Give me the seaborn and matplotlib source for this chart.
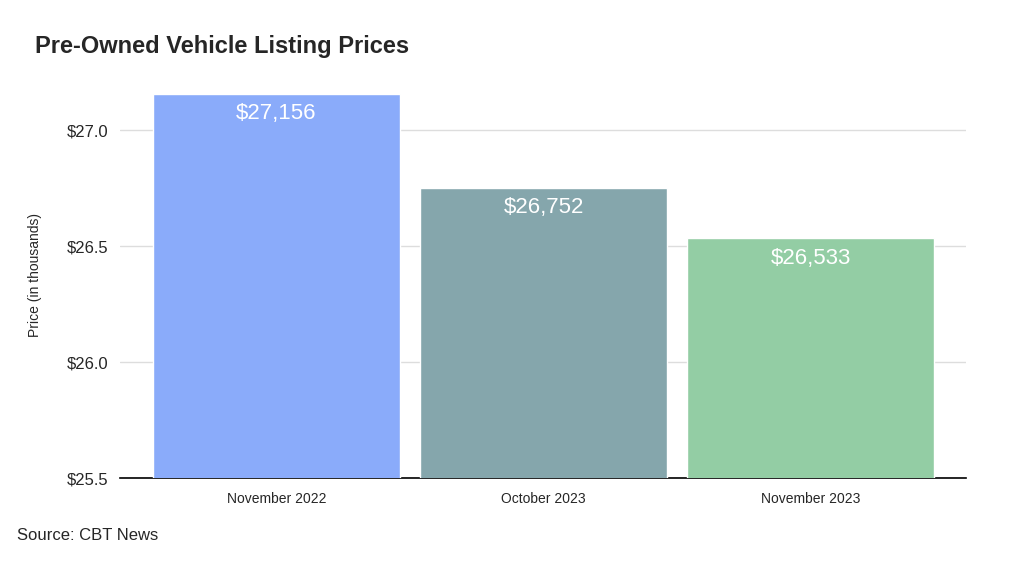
import matplotlib
matplotlib.use("Agg")
import matplotlib.pyplot as plt
import seaborn as sns
import pandas as pd

periods = ["November 2022", "October 2023", "November 2023"]
prices = [27.156, 26.752, 26.533]
price_labels = ["$27,156", "$26,752", "$26,533"]
bar_colors = ["#8aabfa", "#85a6ac", "#93cda4"]

sns.set_theme(style="white")
plt.rcParams['font.family'] = ['Liberation Sans', 'DejaVu Sans']

df = pd.DataFrame({"period": periods, "price": prices})

fig = plt.figure(figsize=(10.24, 5.65), dpi=100)
ax = fig.add_axes([120 / 1024, 1 - 478 / 565, 846 / 1024, 406 / 565])

sns.barplot(data=df, x="period", y="price", hue="period", palette=bar_colors,
            width=0.925, legend=False, ax=ax, saturation=1, zorder=3)

ax.set_ylim(25.5, 27.25)
ax.set_xlim(-0.586, 2.582)
ax.set_yticks([25.5, 26.0, 26.5, 27.0])
ax.set_yticklabels(["$25.5", "$26.0", "$26.5", "$27.0"], fontsize=12)
ax.tick_params(axis="x", labelsize=10, length=0, pad=10)
ax.tick_params(axis="y", length=0, pad=8)
ax.yaxis.grid(True, color="#dddddd", linewidth=1, zorder=0)
ax.set_xlabel("")
ax.set_ylabel("Price (in thousands)", fontsize=10, labelpad=18)
for side in ["left", "right", "top"]:
    ax.spines[side].set_visible(False)
ax.spines["bottom"].set_color("black")
ax.spines["bottom"].set_linewidth(1.2)

for i, (v, lab) in enumerate(zip(prices, price_labels)):
    ax.text(i, v - 0.04, lab, ha="center", va="top", color="white", fontsize=16)

fig.text(35 / 1024, 1 - 47 / 565, "Pre-Owned Vehicle Listing Prices",
         fontsize=17, fontweight="bold", va="center")
fig.text(17 / 1024, 1 - 536 / 565, "Source: CBT News", fontsize=12, va="center")

fig.savefig("out.png", dpi=100)
